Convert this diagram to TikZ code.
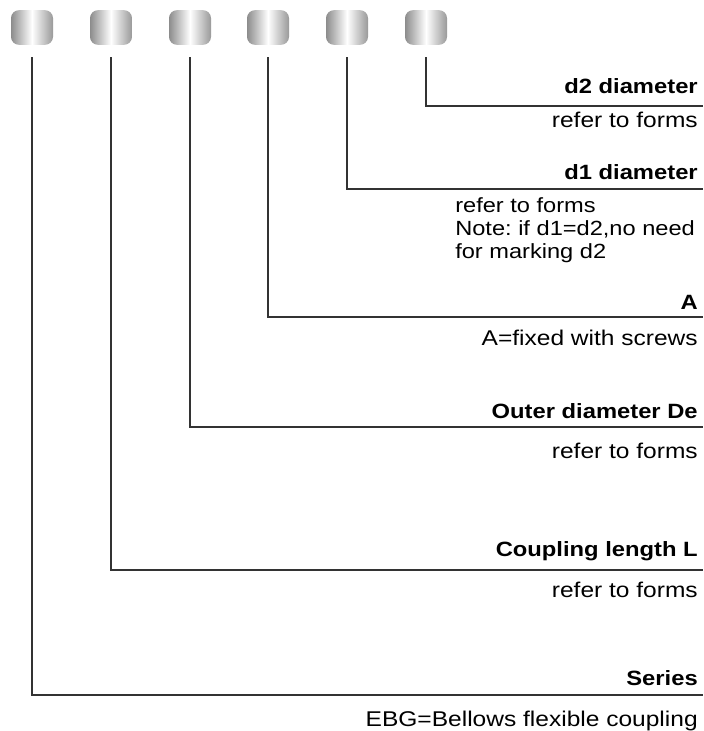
\documentclass[tikz,border=0pt]{standalone}
\usepackage{fontspec}
\setmainfont{Liberation Sans}[FakeStretch=1.15]
\usepackage{tikz}
\usetikzlibrary{positioning}
\frenchspacing

\begin{document}
\begin{tikzpicture}[
  x=0.75pt, y=-0.75pt,
  code/.style={rectangle, rounded corners=6pt, inner sep=0pt,
               minimum width=31.5pt, minimum height=26pt,
               left color=gray!90, right color=gray!80, middle color=white},
  head/.style={font=\fontsize{15.5}{17}\selectfont\bfseries, inner sep=0pt, anchor=base east},
  desc/.style={font=\fontsize{16}{17.25}\selectfont, inner sep=0pt, anchor=base east},
  lead/.style={line width=1.5pt, draw=black!80}
]
\useasboundingbox (0,0) rectangle (703,731);

\node[code] (b1) at (32,27.5)  {};
\node[code] (b2) at (111,27.5) {};
\node[code] (b3) at (190,27.5) {};
\node[code] (b4) at (268,27.5) {};
\node[code] (b5) at (347,27.5) {};
\node[code] (b6) at (426,27.5) {};

\coordinate (e6) at (703,106);
\coordinate (e5) at (703,189);
\coordinate (e4) at (703,317);
\coordinate (e3) at (703,427);
\coordinate (e2) at (703,570);
\coordinate (e1) at (703,695);

\node[head] (h6) at (698,94)  {d2 diameter};
\node[desc] (t6) at (698,128) {refer to forms};
\node[head] (h5) at (698,180) {d1 diameter};
\node[desc, font=\fontsize{15.4}{17.25}\selectfont, anchor=north west, align=left] (t5) at (455,197)
  {refer to forms\\Note: if d1=d2,no need\\for marking d2};
\node[head] (h4) at (698,309) {A};
\node[desc] (t4) at (698,345) {A=fixed with screws};
\node[head] (h3) at (698,418) {Outer diameter De};
\node[desc] (t3) at (698,458) {refer to forms};
\node[head] (h2) at (698,556) {Coupling length L};
\node[desc] (t2) at (698,597) {refer to forms};
\node[head] (h1) at (698,685) {Series};
\node[desc] (t1) at (698,726) {EBG=Bellows flexible coupling};

\draw[lead] ([yshift=-9pt]b6.south) |- (e6);
\draw[lead] ([yshift=-9pt]b5.south) |- (e5);
\draw[lead] ([yshift=-9pt]b4.south) |- (e4);
\draw[lead] ([yshift=-9pt]b3.south) |- (e3);
\draw[lead] ([yshift=-9pt]b2.south) |- (e2);
\draw[lead] ([yshift=-9pt]b1.south) |- (e1);

\end{tikzpicture}
\end{document}
